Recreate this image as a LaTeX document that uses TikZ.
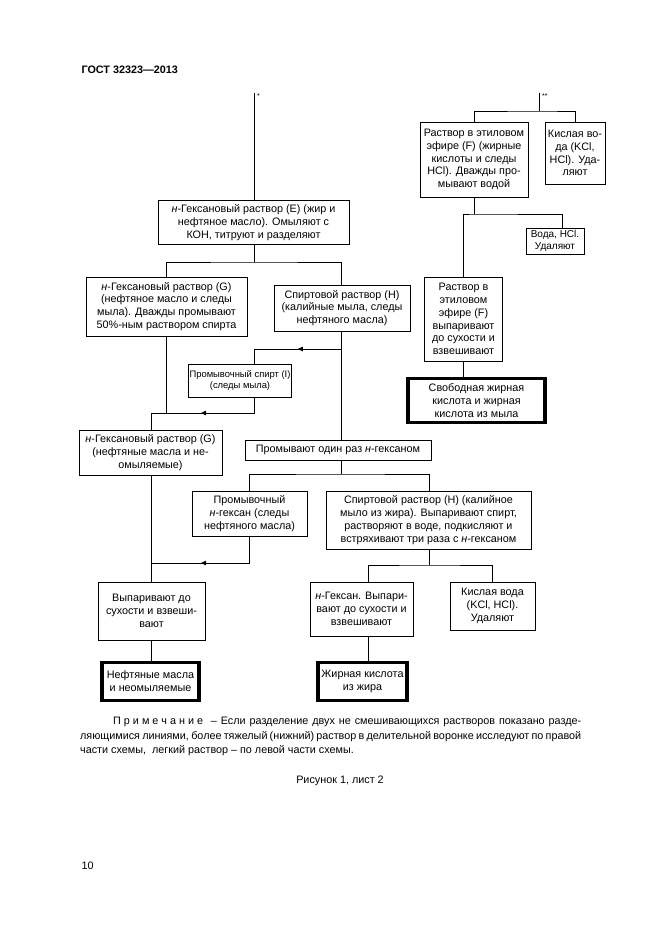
\documentclass[tikz,border=0pt]{standalone}
\usepackage{fontspec}
\setmainfont{Liberation Sans}
\usetikzlibrary{arrows.meta,decorations.markings}
\newcommand\boxfont{\fontsize{10.8}{12.8}\selectfont}
\newcommand\smallboxfont{\fontsize{9.4}{11.5}\selectfont}
\newcommand\ls{\hspace{3pt}}
\tikzset{
  box/.style={draw,line width=.8pt,align=center,inner sep=0pt,font=\boxfont},
  res/.style={box,line width=3.2pt},
  wh/.style 2 args={minimum width=#1pt,minimum height=#2pt},
  link/.style={line width=.8pt},
  flow/.style={link,postaction={decorate},decoration={markings,mark=at position #1 with {\arrow{Triangle[length=5pt,width=4.5pt]}}}}
}
\begin{document}
\begin{tikzpicture}[x=1pt,y=-1pt,font=\boxfont]
\useasboundingbox (0,0) rectangle (661,935);
\node[anchor=west,font=\boxfont\bfseries] (hd) at (78,70) {ГОСТ 32323—2013};

\node[box,wh={191}{44}] (E) at (253.5,222.5) {\textit{н}-Гексановый раствор (E) (жир и\\нефтяное масло). Омыляют с\\КОН, титруют и разделяют};
\node[box,wh={161}{59}] (G1) at (166.5,306.5) {\textit{н}-Гексановый раствор (G)\\(нефтяное масло и следы\\мыла). Дважды промывают\\50\%-ным раствором спирта};
\node[box,wh={136}{46}] (H1) at (342,308) {Спиртовой раствор (Н)\\(калийные мыла, следы\\нефтяного масла)};
\node[box,wh={103}{33},font=\smallboxfont] (I) at (240,380.5) {Промывочный спирт (I)\\(следы мыла)};
\node[box,wh={143}{45}] (G2) at (150.5,452.5) {\textit{н}-Гексановый раствор (G)\\(нефтяные масла и не-\\омыляемые)};
\node[box,wh={186}{20}] (W) at (338,450) {Промывают один раз \textit{н}-гексаном};
\node[box,wh={115}{45}] (Hx) at (249.5,513.5) {Промывочный\\\textit{н}-гексан (следы\\нефтяного масла)};
\node[box,wh={205}{58}] (H2) at (428.5,520) {Спиртовой раствор (Н) (калийное\\мыло из жира). Выпаривают спирт,\\растворяют в воде, подкисляют и\\встряхивают три раза с \textit{н}-гексаном};
\node[box,wh={107}{58}] (V1) at (151.5,611) {Выпаривают до\\сухости и взвеши-\\вают};
\node[res,wh={97}{38}] (NM) at (150.5,681.5) {Нефтяные масла\\и неомыляемые};
\node[box,wh={103}{54}] (HX2) at (361.5,609) {\textit{н}-Гексан. Выпари-\\вают до сухости и\\взвешивают};
\node[box,wh={85}{48}] (KV2) at (492.5,606) {Кислая вода\\(KCl, HCl).\\Удаляют};
\node[res,wh={89}{38}] (ZK) at (362.5,681.5) {Жирная кислота\\из жира};
\node[box,wh={108}{75}] (F) at (474,159.5) {Раствор в этиловом\\эфире (F) (жирные\\кислоты и следы\\HCl). Дважды про-\\мывают водой};
\node[box,wh={60}{62}] (KV1) at (575,153) {Кислая во-\\да (KCl,\\HCl). Уда-\\ляют};
\node[box,wh={58}{26},font=\fontsize{10}{12}\selectfont] (VH) at (555,241) {Вода, HCl.\\Удаляют};
\node[box,wh={78}{84}] (FE) at (463.5,319) {Раствор в\\этиловом\\эфире (F)\\выпаривают\\до сухости и\\взвешивают};
\node[res,wh={137}{44}] (SV) at (476.5,400.5) {Свободная жирная\\кислота и жирная\\кислота из мыла};

\coordinate (tA) at (254.5,93);
\coordinate (jE) at (254.5,262);
\coordinate (jH) at (341.5,349);
\coordinate (cI) at (254.5,349);
\coordinate (cG) at (254.5,413);
\coordinate (jG) at (151,413);
\coordinate (jW) at (341.5,474);
\coordinate (jV) at (151,563);
\coordinate (jX) at (429,565);
\coordinate (cX) at (368,565);
\coordinate (tB) at (539.5,93);
\coordinate (jB) at (539.5,111);
\coordinate (jF) at (474,214);
\coordinate (cV) at (562,214);
\node[anchor=west,inner sep=0pt,font=\fontsize{7}{8}\selectfont] (st1) at (257,96) {*};
\node[anchor=west,inner sep=0pt,font=\fontsize{7}{8}\selectfont] (st2) at (542,96) {**};

\draw[link] (tA) -- (E.north -| tA);
\draw[link] (E.south -| jE) -- (jE);
\draw[link] (G1.north) |- (jE) -| (H1.north -| jH);
\draw[link] (H1.south -| jH) -- (W.north -| jH);
\draw[flow=.43] (jH) -- (cI) -- (I.north -| cI);
\draw[flow=.58] (I.south -| cI) -- (cG) -- (jG);
\draw[link] (G1.south) -- (G1.south |- jG);
\draw[link] (jG) -- (G2.north -| jG);
\draw[link] (G2.south -| jG) -- (V1.north -| jG);
\draw[flow=.6] (Hx.south) |- (jV);
\draw[link] (V1.south -| jG) -- (NM.north -| jG);
\draw[link] (W.south -| jW) -- (jW);
\draw[link] (Hx.north) |- (jW) -| (H2.north -| jX);
\draw[link] (H2.south -| jX) -- (jX);
\draw[link] (HX2.north -| cX) |- (jX) -| (KV2.north);
\draw[link] (HX2.south -| cX) -- (ZK.north -| cX);
\draw[link] (tB) -- (jB);
\draw[link] (F.north) |- (jB) -| (KV1.north);
\draw[link] (F.south) -- (jF);
\draw[link] (FE.north) |- (jF) -- (cV) -- (VH.north -| cV);
\draw[link] (FE.south) -- (SV.north -| FE.south);

\node[anchor=north west,inner sep=0pt,text width=501pt,align=justify,font=\fontsize{10.8}{14.5}\selectfont] (nt) at (80,717) {\hspace*{33pt}П\ls р\ls и\ls м\ls е\ls ч\ls а\ls н\ls и\ls е \ – Если разделение двух не смешивающихся растворов показано разде-\linebreak ляющимися линиями, более тяжелый (нижний) раствор в делительной воронке исследуют по правой\linebreak части схемы,\ \ легкий раствор – по левой части схемы.};
\node (cap) at (340,781) {Рисунок 1, лист 2};
\node[anchor=west] (pg) at (78,866) {10};
\end{tikzpicture}
\end{document}
